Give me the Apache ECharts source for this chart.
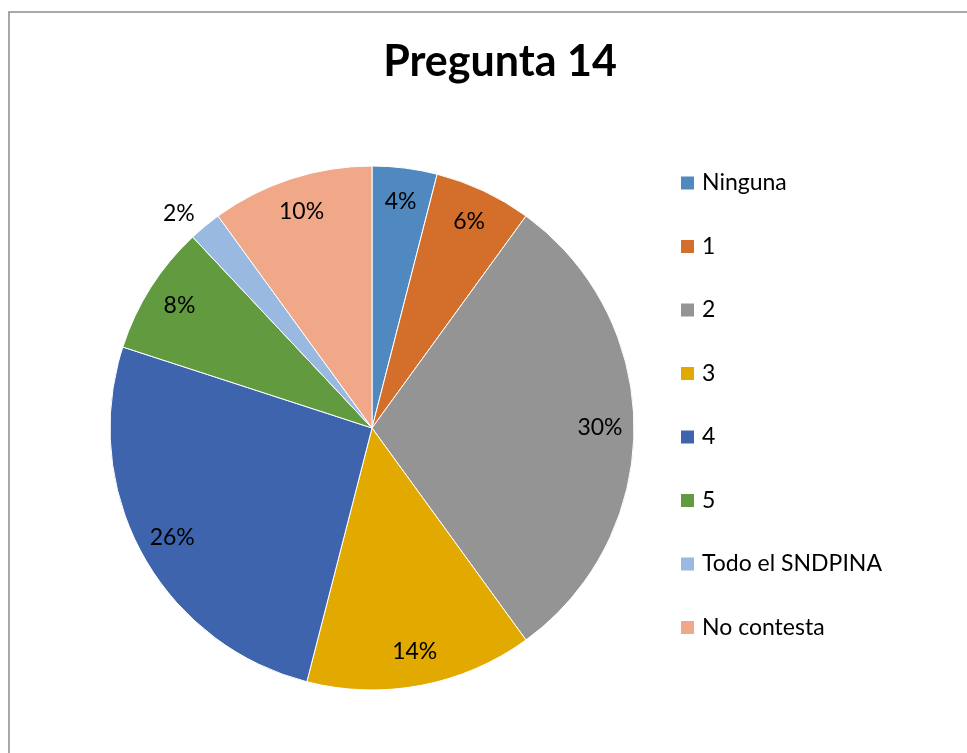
<!DOCTYPE html>
<html>
<head>
<meta charset="utf-8">
<script src="https://cdn.jsdelivr.net/npm/echarts@6/dist/echarts.min.js"></script>
<style>
html, body { margin: 0; padding: 0; background: #fff; }
#main { width: 967px; height: 753px; }
</style>
</head>
<body>
<div id="main"></div>
<script>
var categories = ['Ninguna', '1', '2', '3', '4', '5', 'Todo el SNDPINA', 'No contesta'];
var values = [4, 6, 30, 14, 26, 8, 2, 10];
var colors = ['#4F89BF', '#D36F2B', '#949494', '#E2AA00', '#3E64AD', '#629B3F', '#99B9E0', '#F0A889'];
var FONT = 'Lato';

var chart = echarts.init(document.getElementById('main'));

var pieData = [];
var labelData = [];
for (var i = 0; i < categories.length; i++) {
    pieData.push({ name: categories[i], value: values[i], itemStyle: { color: colors[i] } });
    var item = { name: categories[i], value: values[i] };
    if (values[i] < 3) {
        // small slice: label sits just outside the pie
        item.label = { position: 'outside', distanceToLabelLine: 0 };
        item.labelLine = { show: false, length: 16, length2: 0 };
    }
    labelData.push(item);
}

var option = {
    animation: false,
    title: {
        text: 'Pregunta 14',
        left: 495,
        top: 36,
        textAlign: 'center',
        textStyle: { fontFamily: FONT, fontSize: 43, fontWeight: 'bold', color: '#000' }
    },
    legend: {
        orient: 'vertical',
        left: 679,
        top: 171,
        padding: 0,
        itemWidth: 15,
        itemHeight: 15,
        itemGap: 39.5,
        icon: 'rect',
        data: categories,
        textStyle: { fontFamily: FONT, fontSize: 23, lineHeight: 24, color: '#000', padding: [0, 0, 0, 2] }
    },
    graphic: [{
        type: 'rect',
        shape: { x: 9, y: 12, width: 1000, height: 800 },
        style: { fill: 'none', stroke: '#8c8c8c', lineWidth: 1.5 },
        silent: true
    }],
    series: [{
        name: 'Pregunta 14',
        type: 'pie',
        center: [372, 428],
        radius: [0, 262],
        startAngle: 90,
        clockwise: true,
        label: { show: false },
        labelLine: { show: false },
        itemStyle: { borderColor: '#fff', borderWidth: 1 },
        data: pieData
    }, {
        // invisible ring, only used to place the percentage labels
        name: 'labels',
        type: 'pie',
        center: [372, 428],
        radius: [188, 262],
        startAngle: 90,
        clockwise: true,
        silent: true,
        itemStyle: { color: 'rgba(0,0,0,0)' },
        label: {
            show: true,
            position: 'inside',
            formatter: '{c}%',
            fontFamily: FONT,
            fontSize: 23,
            color: '#000'
        },
        labelLine: { show: false },
        data: labelData
    }]
};
chart.setOption(option);
</script>
</body>
</html>
